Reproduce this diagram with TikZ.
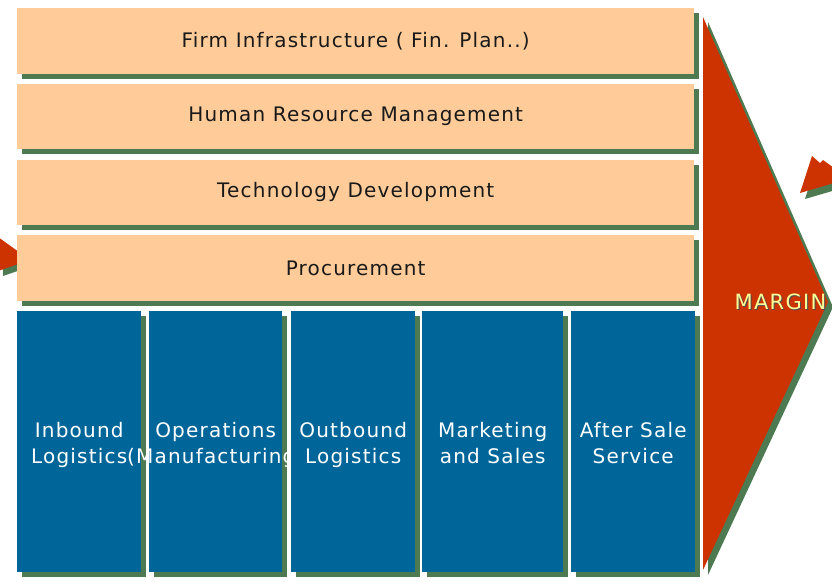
\documentclass[tikz,border=0pt]{standalone}
\usepackage{fontspec}
\setmainfont{DejaVu Sans}
\newfontfamily\chainfont[LetterSpace=6.0]{DejaVu Sans}
\usepackage{tikz}
\usetikzlibrary{shapes,arrows,positioning,calc,shadows}

\definecolor{peach}{HTML}{FFCC99}
\definecolor{shadegreen}{HTML}{4D7A50}
\definecolor{primaryblue}{HTML}{006699}
\definecolor{marginred}{HTML}{CC3300}
\definecolor{marginyellow}{HTML}{FFFF99}

\tikzset{
    support/.style={fill=peach, text=black!90, anchor=north west, inner sep=0pt,
        minimum width=677pt, minimum height=65.5pt,
        font=\chainfont\fontsize{20}{24}\selectfont,
        drop shadow={shadow xshift=5pt, shadow yshift=-5pt, fill=shadegreen, opacity=1}},
    primary/.style={fill=primaryblue, anchor=north west, inner sep=0pt,
        minimum height=261pt,
        drop shadow={shadow xshift=5pt, shadow yshift=-5pt, fill=shadegreen, opacity=1}},
    primarytext/.style={text=white, align=center, inner sep=0pt, anchor=base,
        font=\chainfont\fontsize{20}{26}\selectfont}
}

\begin{document}
\begin{tikzpicture}[x=1pt,y=-1pt]
    \useasboundingbox (0,0) rectangle (832,581);
    \clip (0,0) rectangle (832,581);

    % Margin arrow
    \fill[shadegreen, shift={(5,5)}] (703,17) -- (828,302) -- (703,570) -- cycle;
    \fill[marginred] (703,17) -- (828,302) -- (703,570) -- cycle;
    \node[font=\chainfont\fontsize{21}{24}\selectfont, text=black!70] (marginshade) at (781.5,303) {MARGIN};
    \node[font=\chainfont\fontsize{21}{24}\selectfont, text=marginyellow] (margin) at (780.5,302) {MARGIN};

    % Arrow tips coming in at the edges
    \fill[shadegreen, shift={(5,5)}] (-2,237) -- (30,260) -- (-2,271) -- cycle;
    \fill[marginred] (-2,237) -- (30,260) -- (-2,271) -- cycle;
    \fill[shadegreen, shift={(5,6)}] (800,193) -- (812,156) -- (820,163) -- (823,160) -- (834,168) -- (834,183) -- cycle;
    \fill[marginred] (800,193) -- (812,156) -- (820,163) -- (823,160) -- (834,168) -- (834,183) -- cycle;

    % Support activities
    \node[support] (infra) at (17,8) {Firm Infrastructure ( Fin. Plan..)};
    \node[support] (hrm) at (17,83.7) {Human Resource Management};
    \node[support] (tech) at (17,159.4) {Technology Development};
    \node[support] (proc) at (17,235.1) {Procurement};

    % Primary activities (each box hides the text running in from its left)
    \node[primary, minimum width=124pt] (inbound) at (17,311) {};
    \node[primarytext] (inboundtext) at (inbound.center |- 0,463) {Inbound\\Logistics};
    \node[primary, minimum width=133pt] (operations) at (149,311) {};
    \node[primarytext] (operationstext) at (operations.center |- 0,463) {Operations\\(Manufacturing)};
    \node[primary, minimum width=124pt] (outbound) at (291,311) {};
    \node[primarytext] (outboundtext) at (outbound.center |- 0,463) {Outbound\\Logistics};
    \node[primary, minimum width=141pt] (marketing) at (422,311) {};
    \node[primarytext] (marketingtext) at (marketing.center |- 0,463) {Marketing\\and Sales};
    \node[primary, minimum width=124pt] (service) at (571,311) {};
    \node[primarytext] (servicetext) at (service.center |- 0,463) {After Sale\\Service};
\end{tikzpicture}
\end{document}
